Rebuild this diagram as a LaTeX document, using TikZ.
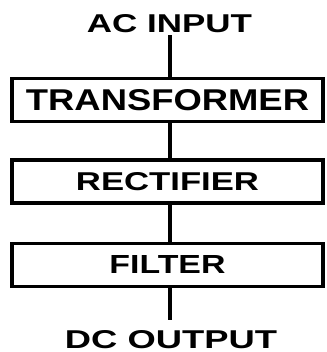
\documentclass[tikz,border=0pt]{standalone}
\usepackage{fontspec}
\setmainfont{Liberation Sans}
\usepackage{graphicx}
\begin{document}
\begin{tikzpicture}[x=1pt,y=1pt,
  blockbox/.style={draw=black,line width=3.5pt,inner sep=0pt,minimum width=311pt,minimum height=43pt},
  label/.style={inner sep=0pt,anchor=base},
  wire/.style={line width=4pt,black}]
\useasboundingbox (0,0) rectangle (326,352);
\node[label] (ac) at (169.5,319) {\resizebox{165pt}{18pt}{\bfseries AC INPUT}};
\node[blockbox] (tr) at (167.5,252) {\resizebox{283pt}{21pt}{\bfseries TRANSFORMER}};
\node[blockbox] (rc) at (167.5,170.5) {\resizebox{183pt}{18pt}{\bfseries RECTIFIER}};
\node[blockbox] (fl) at (167.5,87) {\resizebox{116pt}{18pt}{\bfseries FILTER}};
\node[label] (dc) at (171,4) {\resizebox{212pt}{18pt}{\bfseries DC OUTPUT}};
\coordinate (wx) at (170,0);
\draw[wire] ([yshift=-2pt]ac.south -| wx) -- (tr.north -| wx);
\draw[wire] (tr.south -| wx) -- (rc.north -| wx);
\draw[wire] (rc.south -| wx) -- (fl.north -| wx);
\draw[wire] (fl.south -| wx) -- ([yshift=10pt]dc.north -| wx);
\end{tikzpicture}
\end{document}
